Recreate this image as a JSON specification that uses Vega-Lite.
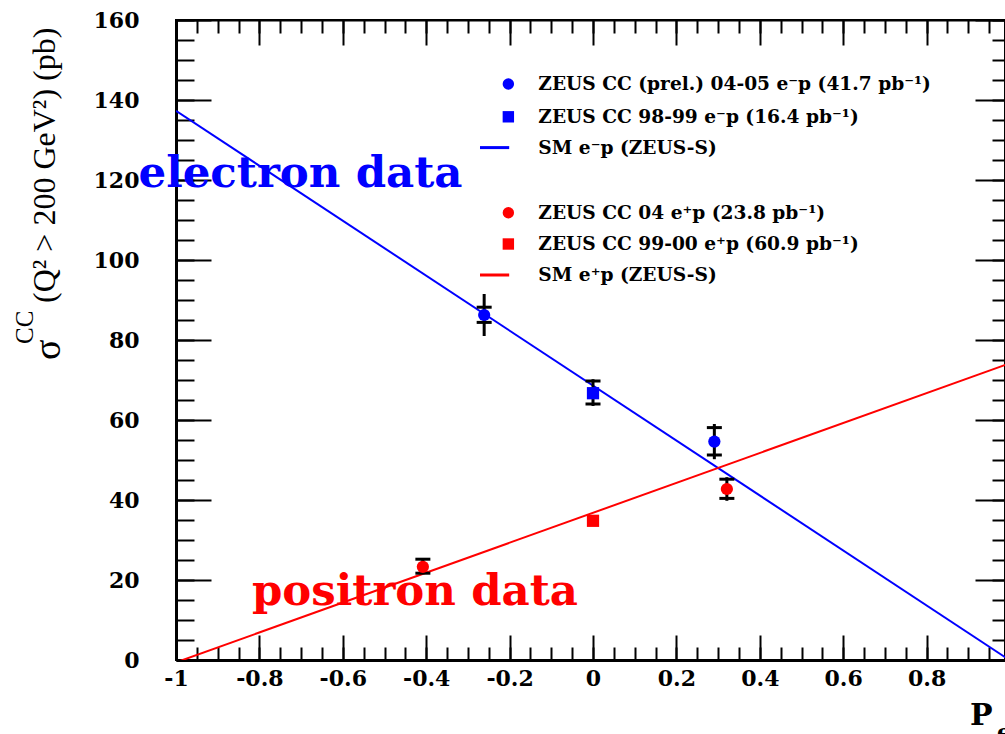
{
  "$schema": "https://vega.github.io/schema/vega-lite/v6.json",
  "width": 829,
  "height": 640,
  "autosize": {"type": "none"},
  "padding": {"left": 176, "top": 20, "right": 0, "bottom": 74},
  "background": "white",
  "config": {
    "view": {"stroke": "black", "strokeWidth": 2},
    "axis": {"grid": false, "title": null, "tickColor": "black", "domainColor": "black", "labelColor": "black", "tickWidth": 2}
  },
  "datasets": {
    "sm": [
      {"beam": "e-p", "x": -1, "y": 137.3},
      {"beam": "e-p", "x": 1, "y": -0.1},
      {"beam": "e+p", "x": -1, "y": -0.6},
      {"beam": "e+p", "x": 1, "y": 74.2}
    ],
    "meas": [
      {"run": "04-05 e-p", "beam": "e-p", "x": -0.261, "y": 86.25, "lo": 81.0, "hi": 91.5, "slo": 84.4, "shi": 88.2},
      {"run": "98-99 e-p", "beam": "e-p", "x": 0, "y": 66.7, "lo": 63.5, "hi": 70.2, "slo": 64.0, "shi": 69.75},
      {"run": "04-05 e-p", "beam": "e-p", "x": 0.291, "y": 54.6, "lo": 50.2, "hi": 59.0, "slo": 51.25, "shi": 58.1},
      {"run": "04 e+p", "beam": "e+p", "x": 0.321, "y": 42.75, "lo": 39.8, "hi": 45.7, "slo": 40.4, "shi": 45.2},
      {"run": "99-00 e+p", "beam": "e+p", "x": 0, "y": 34.8, "lo": null, "hi": null, "slo": null, "shi": null},
      {"run": "04 e+p", "beam": "e+p", "x": -0.408, "y": 23.3, "lo": 21.5, "hi": 25.4, "slo": 21.7, "shi": 25.2}
    ],
    "legend": [
      {"run": "04-05 e-p", "beam": "e-p", "y": 144, "kind": "point", "label": "ZEUS CC (prel.) 04-05 e⁻p (41.7 pb⁻¹)"},
      {"run": "98-99 e-p", "beam": "e-p", "y": 135.8, "kind": "point", "label": "ZEUS CC 98-99 e⁻p (16.4 pb⁻¹)"},
      {"run": "SM", "beam": "e-p", "y": 128.1, "kind": "line", "label": "SM e⁻p (ZEUS-S)"},
      {"run": "04 e+p", "beam": "e+p", "y": 111.8, "kind": "point", "label": "ZEUS CC 04 e⁺p (23.8 pb⁻¹)"},
      {"run": "99-00 e+p", "beam": "e+p", "y": 104.0, "kind": "point", "label": "ZEUS CC 99-00 e⁺p (60.9 pb⁻¹)"},
      {"run": "SM", "beam": "e+p", "y": 96.25, "kind": "line", "label": "SM e⁺p (ZEUS-S)"}
    ],
    "notes": [
      {"beam": "e-p", "x": -1.09, "y": 118.3, "t": "electron data"},
      {"beam": "e+p", "x": -0.818, "y": 13.75, "t": "positron data"}
    ]
  },
  "resolve": {"axis": {"x": "independent", "y": "independent"}},
  "layer": [
    {
      "data": {"name": "sm"},
      "mark": {"type": "line", "clip": true, "strokeWidth": 2},
      "encoding": {
        "x": {"field": "x", "type": "quantitative", "scale": {"domain": [-1, 0.988], "nice": false, "zero": false},
          "axis": {"orient": "bottom", "values": [-1, -0.8, -0.6, -0.4, -0.2, 0, 0.2, 0.4, 0.6, 0.8, 1], "ticks": false, "domain": true, "domainWidth": 3, "labelFont": "DejaVu Serif", "labelFontWeight": "bold", "labelFontSize": 22, "labelPadding": 8, "labelFlush": false, "labelExpr": "toString(datum.value)", "title": null}},
        "y": {"field": "y", "type": "quantitative", "scale": {"domain": [0, 160], "nice": false, "zero": false},
          "axis": {"orient": "left", "values": [0, 20, 40, 60, 80, 100, 120, 140, 160], "ticks": false, "domain": true, "domainWidth": 3, "labelFont": "DejaVu Serif", "labelFontWeight": "bold", "labelFontSize": 22, "labelPadding": 37, "labelFlush": false, "title": null}},
        "color": {"field": "beam", "type": "nominal", "scale": {"domain": ["e-p", "e+p"], "range": ["#0000ff", "#ff0000"]}, "legend": null}
      }
    },
    {
      "data": {"name": "meas"},
      "mark": {"type": "rule", "strokeWidth": 3, "color": "black"},
      "encoding": {
        "x": {"field": "x", "type": "quantitative",
          "axis": {"orient": "bottom", "values": [-1, -0.8, -0.6, -0.4, -0.2, 0, 0.2, 0.4, 0.6, 0.8, 1], "labels": false, "domain": false, "ticks": true, "tickSize": -25, "title": null}},
        "y": {"field": "lo", "type": "quantitative",
          "axis": {"orient": "left", "values": [0, 20, 40, 60, 80, 100, 120, 140, 160], "labels": false, "domain": false, "ticks": true, "tickSize": -35, "title": null}},
        "y2": {"field": "hi"}
      }
    },
    {
      "data": {"name": "meas"},
      "mark": {"type": "tick", "orient": "horizontal", "size": 15, "thickness": 3, "color": "black", "opacity": 1},
      "encoding": {
        "x": {"field": "x", "type": "quantitative",
          "axis": {"orient": "bottom", "values": [-1, -0.95, -0.9, -0.85, -0.8, -0.75, -0.7, -0.65, -0.6, -0.55, -0.5, -0.45, -0.4, -0.35, -0.3, -0.25, -0.2, -0.15, -0.1, -0.05, 0, 0.05, 0.1, 0.15, 0.2, 0.25, 0.3, 0.35, 0.4, 0.45, 0.5, 0.55, 0.6, 0.65, 0.7, 0.75, 0.8, 0.85, 0.9, 0.95], "labels": false, "domain": false, "ticks": true, "tickSize": -13, "title": null}},
        "y": {"field": "slo", "type": "quantitative",
          "axis": {"orient": "left", "values": [0, 5, 10, 15, 20, 25, 30, 35, 40, 45, 50, 55, 60, 65, 70, 75, 80, 85, 90, 95, 100, 105, 110, 115, 120, 125, 130, 135, 140, 145, 150, 155, 160], "labels": false, "domain": false, "ticks": true, "tickSize": -18, "title": null}}
      }
    },
    {
      "data": {"name": "meas"},
      "mark": {"type": "tick", "orient": "horizontal", "size": 15, "thickness": 3, "color": "black", "opacity": 1},
      "encoding": {
        "x": {"field": "x", "type": "quantitative",
          "axis": {"orient": "top", "values": [-1, -0.8, -0.6, -0.4, -0.2, 0, 0.2, 0.4, 0.6, 0.8], "labels": false, "domain": true, "domainWidth": 2, "ticks": true, "tickSize": -25, "title": null}},
        "y": {"field": "shi", "type": "quantitative",
          "axis": {"orient": "right", "values": [0, 20, 40, 60, 80, 100, 120, 140, 160], "labels": false, "domain": true, "domainWidth": 2, "ticks": true, "tickSize": -30, "title": null}}
      }
    },
    {
      "data": {"name": "meas"},
      "mark": {"type": "point", "filled": true, "opacity": 1, "size": 150},
      "encoding": {
        "x": {"field": "x", "type": "quantitative",
          "axis": {"orient": "top", "values": [-1, -0.95, -0.9, -0.85, -0.8, -0.75, -0.7, -0.65, -0.6, -0.55, -0.5, -0.45, -0.4, -0.35, -0.3, -0.25, -0.2, -0.15, -0.1, -0.05, 0, 0.05, 0.1, 0.15, 0.2, 0.25, 0.3, 0.35, 0.4, 0.45, 0.5, 0.55, 0.6, 0.65, 0.7, 0.75, 0.8, 0.85, 0.9, 0.95], "labels": false, "domain": false, "ticks": true, "tickSize": -13, "title": null}},
        "y": {"field": "y", "type": "quantitative",
          "axis": {"orient": "right", "values": [0, 5, 10, 15, 20, 25, 30, 35, 40, 45, 50, 55, 60, 65, 70, 75, 80, 85, 90, 95, 100, 105, 110, 115, 120, 125, 130, 135, 140, 145, 150, 155, 160], "labels": false, "domain": false, "ticks": true, "tickSize": -13, "title": null}},
        "color": {"field": "beam", "type": "nominal", "legend": null},
        "shape": {"field": "run", "type": "nominal", "scale": {"domain": ["04-05 e-p", "98-99 e-p", "04 e+p", "99-00 e+p"], "range": ["circle", "square", "circle", "square"]}, "legend": null}
      }
    },
    {
      "data": {"name": "legend"},
      "transform": [{"filter": "datum.kind == 'line'"}],
      "mark": {"type": "rule", "strokeWidth": 3},
      "encoding": {
        "x": {"datum": -0.271, "type": "quantitative", "axis": null},
        "x2": {"datum": -0.201},
        "y": {"field": "y", "type": "quantitative", "axis": null},
        "color": {"field": "beam", "type": "nominal", "legend": null}
      }
    },
    {
      "data": {"name": "legend"},
      "transform": [{"filter": "datum.kind == 'point'"}],
      "mark": {"type": "point", "filled": true, "opacity": 1, "size": 130},
      "encoding": {
        "x": {"datum": -0.203, "type": "quantitative", "axis": null},
        "y": {"field": "y", "type": "quantitative", "axis": null},
        "color": {"field": "beam", "type": "nominal", "legend": null},
        "shape": {"field": "run", "type": "nominal", "legend": null}
      }
    },
    {
      "data": {"name": "legend"},
      "mark": {"type": "text", "align": "left", "baseline": "middle", "font": "DejaVu Serif", "fontWeight": "bold", "fontSize": 18.6, "color": "black"},
      "encoding": {
        "x": {"datum": -0.131, "type": "quantitative", "axis": null},
        "y": {"field": "y", "type": "quantitative", "axis": null},
        "text": {"field": "label"}
      }
    },
    {
      "data": {"name": "notes"},
      "mark": {"type": "text", "align": "left", "baseline": "alphabetic", "font": "DejaVu Serif", "fontWeight": "bold", "fontSize": 43.5},
      "encoding": {
        "x": {"field": "x", "type": "quantitative", "axis": null},
        "y": {"field": "y", "type": "quantitative", "axis": null},
        "text": {"field": "t"},
        "color": {"field": "beam", "type": "nominal", "legend": null}
      }
    },
    {
      "data": {"values": [{"t": "σ"}]},
      "mark": {"type": "text", "angle": 270, "align": "left", "baseline": "alphabetic", "font": "Liberation Serif", "fontSize": 38, "color": "black"},
      "encoding": {
        "x": {"datum": -1.278, "type": "quantitative", "axis": null},
        "y": {"datum": 75.0, "type": "quantitative", "axis": null},
        "text": {"field": "t"}
      }
    },
    {
      "data": {"values": [{"t": "CC"}]},
      "mark": {"type": "text", "angle": 270, "align": "left", "baseline": "alphabetic", "font": "Liberation Serif", "fontSize": 25, "color": "black"},
      "encoding": {
        "x": {"datum": -1.343, "type": "quantitative", "axis": null},
        "y": {"datum": 79.0, "type": "quantitative", "axis": null},
        "text": {"field": "t"}
      }
    },
    {
      "data": {"values": [{"t": "(Q² > 200 GeV²) (pb)"}]},
      "mark": {"type": "text", "angle": 270, "align": "left", "baseline": "alphabetic", "font": "Liberation Serif", "fontSize": 32, "color": "black"},
      "encoding": {
        "x": {"datum": -1.29, "type": "quantitative", "axis": null},
        "y": {"datum": 89.25, "type": "quantitative", "axis": null},
        "text": {"field": "t"}
      }
    },
    {
      "data": {"values": [{"t": "P"}]},
      "mark": {"type": "text", "align": "left", "baseline": "alphabetic", "font": "DejaVu Serif", "fontWeight": "bold", "fontSize": 30, "color": "black"},
      "encoding": {
        "x": {"datum": 0.904, "type": "quantitative", "axis": null},
        "y": {"datum": -16.25, "type": "quantitative", "axis": null},
        "text": {"field": "t"}
      }
    },
    {
      "data": {"values": [{"t": "e"}]},
      "mark": {"type": "text", "align": "left", "baseline": "alphabetic", "font": "DejaVu Serif", "fontWeight": "bold", "fontSize": 22, "color": "black"},
      "encoding": {
        "x": {"datum": 0.969, "type": "quantitative", "axis": null},
        "y": {"datum": -20, "type": "quantitative", "axis": null},
        "text": {"field": "t"}
      }
    }
  ]
}
